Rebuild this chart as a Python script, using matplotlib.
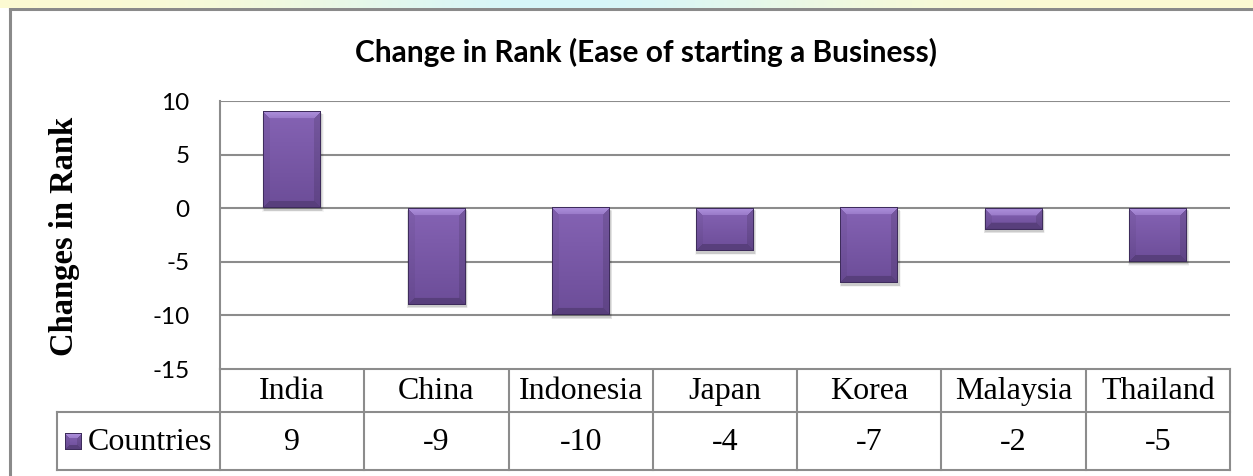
import numpy as np
import matplotlib
matplotlib.use('Agg')
import matplotlib.pyplot as plt
from matplotlib.colors import to_rgb

countries = ['India', 'China', 'Indonesia', 'Japan', 'Korea', 'Malaysia', 'Thailand']
rank_change = [9, -9, -10, -4, -7, -2, -5]
series_name = 'Countries'
title = 'Change in Rank (Ease of starting a Business)'
ylabel = 'Changes in Rank'
yticks = [10, 5, 0, -5, -10, -15]

W, H = 1253, 476
fig = plt.figure(figsize=(W / 100, H / 100), dpi=100)
fig.patch.set_facecolor('white')

def fx(px):
    return px / W

def fy(py):
    return 1 - py / H

# faint watermark strip at the very top
bg = fig.add_axes([0, fy(8), 1, 8 / H])
xs = np.linspace(0, 1, 400)
yel = np.array(to_rgb('#fdfbd2'))
cya = np.array(to_rgb('#d6f6fa'))
wgt = np.exp(-((xs - 0.45) / 0.22) ** 2)
strip = yel[None, :] * (1 - wgt[:, None]) + cya[None, :] * wgt[:, None]
bg.imshow(strip[None, :, :], aspect='auto', extent=[0, 1, 0, 1])
bg.axis('off')

# chart border (top and left)
frame = fig.add_axes([0, 0, 1, 1], zorder=-1)
frame.set_xlim(0, W)
frame.set_ylim(H, 0)
frame.axis('off')
frame.plot([10, W], [9, 9], color='#8a8a8a', lw=2.2)
frame.plot([10, 10], [9, H], color='#8a8a8a', lw=2.2)

left, right, top, bottom = 220, 1230, 101, 369
ax = fig.add_axes([fx(left), fy(bottom), fx(right - left), (bottom - top) / H])
ax.set_xlim(-0.5, len(countries) - 0.5)
ax.set_ylim(-15, 10)
ax.set_yticks(yticks)
ax.set_yticklabels([str(t) for t in yticks], fontfamily='Lato', fontsize=17.5)
ax.tick_params(axis='y', length=0, pad=22)
ax.set_xticks([])
for s in ['top', 'right', 'bottom']:
    ax.spines[s].set_visible(False)
ax.spines['left'].set_color('#8c8c8c')
ax.spines['left'].set_linewidth(1.5)
for t in yticks:
    ax.axhline(t, color='#8c8c8c', lw=1.5, zorder=1)

grey = '#8c8c8c'
top_c = np.array(to_rgb('#8563b4'))
bot_c = np.array(to_rgb('#6c4d98'))
light = np.array(to_rgb('#ad90dc'))
edge = np.array(to_rgb('#3e2c5c'))
col_px = (right - left) / len(countries)
unit_px = (bottom - top) / 25.0
bw = 0.4

def bevel_img(nx, ny, bev):
    img = np.zeros((ny, nx, 3))
    for i in range(ny):
        for j in range(nx):
            dt, db, dl, dr = i, ny - 1 - i, j, nx - 1 - j
            m = min(dt, db, dl, dr)
            f = i / max(ny - 1, 1)
            c = top_c * (1 - f) + bot_c * f
            if m < bev:
                if m == dt:
                    c = light * (1 - dt / bev * 0.5) + top_c * (dt / bev * 0.5)
                elif m == db:
                    c = bot_c * 0.82
                elif m == dl:
                    c = c * 0.95
                else:
                    c = c * 0.88
            if m == 0:
                c = edge
            img[i, j] = np.clip(c, 0, 1)
    return img

bars = ax.bar(range(len(countries)), rank_change, width=bw, color='none', zorder=3)
for b, v in zip(bars, rank_change):
    x0 = b.get_x()
    y0, y1 = min(0, v), max(0, v)
    # soft shadow
    for k, a in enumerate([0.10, 0.07, 0.04]):
        d = 0.004 * (k + 1)
        ax.bar(x0 + bw / 2 + 0.006, y1 - y0 + 0.1, width=bw + 2 * d,
               bottom=y0 - 0.25 - 0.05 * k, color='#000000', alpha=a, zorder=2, lw=0)
    nx = int(round(bw * col_px))
    ny = max(int(round((y1 - y0) * unit_px)), 4)
    img = bevel_img(nx, ny, 7)
    ax.imshow(img, extent=[x0, x0 + bw, y0, y1], aspect='auto',
              zorder=4, interpolation='bilinear')
ax.set_xlim(-0.5, len(countries) - 0.5)
ax.set_ylim(-15, 10)

fig.text(fx(646), fy(52), title, ha='center', va='center',
         fontfamily='Lato', fontweight='bold', fontsize=21.5)
fig.text(fx(64), fy(236), ylabel, ha='center', va='center', rotation=90,
         fontfamily='Liberation Serif', fontweight='bold', fontsize=23.5)

# data table under the plot
r1, r2 = 412, 470
legl = 57
frame.plot([left, right], [bottom, bottom], color=grey, lw=1.5)
frame.plot([legl, right], [r1, r1], color=grey, lw=1.5)
frame.plot([legl, right], [r2, r2], color=grey, lw=1.5)
frame.plot([legl, legl], [r1, r2], color=grey, lw=1.5)
for k in range(len(countries) + 1):
    xx = left + k * col_px
    frame.plot([xx, xx], [bottom, r2], color=grey, lw=1.5)
for k, (c, v) in enumerate(zip(countries, rank_change)):
    cx = left + (k + 0.5) * col_px
    frame.text(cx, (bottom + r1) / 2 + 1, c, ha='center', va='center',
               fontfamily='Liberation Serif', fontsize=23)
    frame.text(cx, (r1 + r2) / 2 + 1, str(v), ha='center', va='center',
               fontfamily='Liberation Serif', fontsize=23)
frame.imshow(bevel_img(17, 17, 5), extent=[65, 82, 450, 433], zorder=3)
frame.set_xlim(0, W)
frame.set_ylim(H, 0)
frame.text(88, (r1 + r2) / 2 + 1, series_name, ha='left', va='center',
           fontfamily='Liberation Serif', fontsize=23)

fig.savefig('out.png', dpi=100)
